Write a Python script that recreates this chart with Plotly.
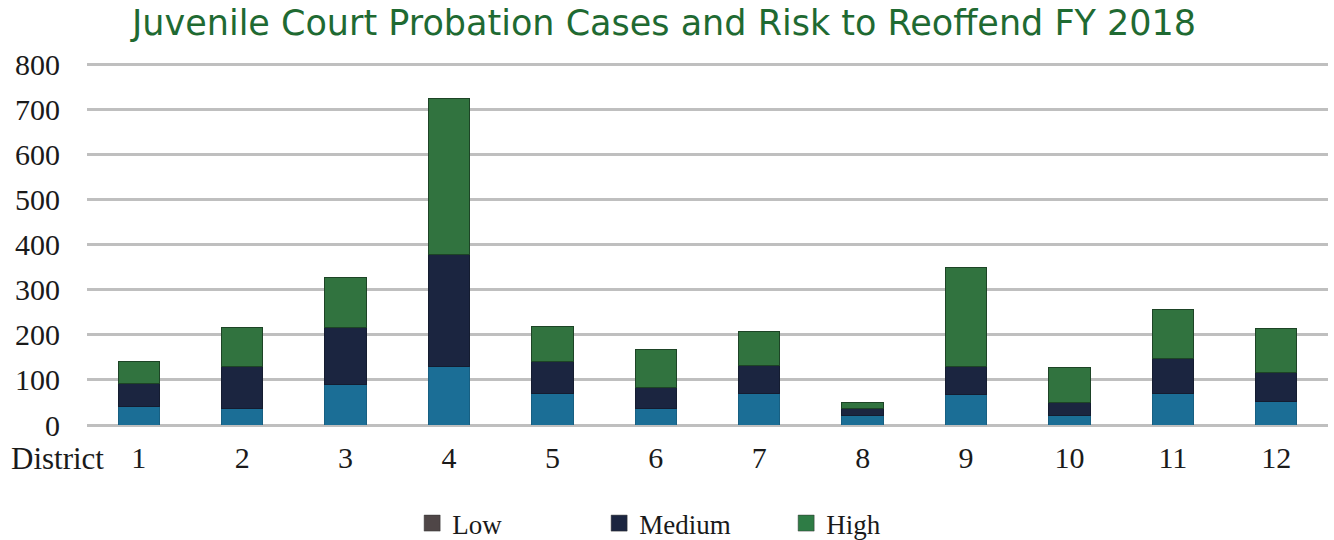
import plotly.graph_objects as go

# Districts and cases by risk level to reoffend, FY 2018
districts = ["1", "2", "3", "4", "5", "6", "7", "8", "9", "10", "11", "12"]
low = [40, 36, 89, 130, 69, 36, 71, 20, 67, 22, 69, 53]
medium = [53, 94, 128, 249, 73, 48, 62, 16, 63, 27, 78, 63]
high = [47, 87, 111, 346, 76, 83, 74, 13, 220, 79, 109, 99]
y_ticks = [0, 100, 200, 300, 400, 500, 600, 700, 800]

serif = "Liberation Serif, Times New Roman, serif"

fig = go.Figure()

bar_series = [
    ("Low", low, "#1b6e96", "#175f82"),
    ("Medium", medium, "#1b2540", "#141c30"),
    ("High", high, "#31733f", "#1d4426"),
]
for name, vals, color, edge in bar_series:
    fig.add_trace(go.Bar(
        x=districts, y=vals, name=name, showlegend=False,
        marker=dict(color=color, line=dict(color=edge, width=1)),
    ))

# Legend swatches
legend_series = [("Low", "#4f4647"), ("Medium", "#1b2540"), ("High", "#2e7c45")]
for name, color in legend_series:
    fig.add_trace(go.Scatter(
        x=[None], y=[None], mode="markers", name=name,
        marker=dict(symbol="square", size=18, color=color,
                    line=dict(color="#333333", width=0.5)),
    ))

fig.update_layout(
    barmode="stack",
    bargap=0.6,
    width=1334, height=540,
    margin=dict(l=87, r=6, t=60, b=115, autoexpand=False),
    paper_bgcolor="white",
    plot_bgcolor="white",
    title=dict(
        text="Juvenile Court Probation Cases and Risk to Reoffend FY 2018",
        x=0.4978, xanchor="center", y=0.958, yanchor="middle",
        font=dict(family="DejaVu Sans, sans-serif", size=35, color="#1f6a32"),
    ),
    legend=dict(
        orientation="h", x=0.262, xanchor="left", y=-0.27, yanchor="middle",
        font=dict(family=serif, size=27, color="#1a1a1a"),
        entrywidth=142, entrywidthmode="pixels", itemsizing="trace",
        traceorder="normal",
    ),
    showlegend=True,
)

fig.update_xaxes(
    type="category", range=[-0.5, 11.5], automargin=False,
    showgrid=False, showline=False, zeroline=False, ticks="",
    tickfont=dict(family=serif, size=30, color="#1a1a1a"),
    ticklabelstandoff=12,
)
fig.update_yaxes(
    range=[0, 810], tickvals=y_ticks, automargin=False,
    showgrid=True, gridcolor="#bfbfbf", gridwidth=2.5,
    zeroline=True, zerolinecolor="#bfbfbf", zerolinewidth=2.5,
    showline=False, ticks="",
    tickfont=dict(family=serif, size=30, color="#1a1a1a"),
    ticklabelstandoff=26,
)

fig.add_annotation(
    text="District", xref="paper", yref="paper",
    x=-0.063, y=-0.093, xanchor="left", yanchor="middle",
    showarrow=False,
    font=dict(family=serif, size=31, color="#1a1a1a"),
)

fig.write_html("out.html")
